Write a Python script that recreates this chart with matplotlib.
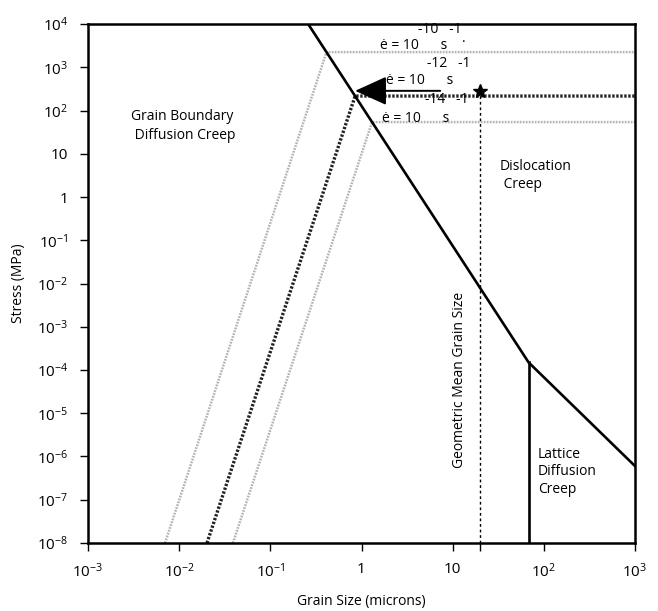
import matplotlib
matplotlib.use("Agg")
import matplotlib.pyplot as plt

plt.rcParams["font.family"] = ["Open Sans", "DejaVu Sans"]
plt.rcParams["mathtext.fontset"] = "custom"
plt.rcParams["mathtext.rm"] = "Open Sans"
plt.rcParams["mathtext.default"] = "regular"

# deformation mechanism boundary (grain size in microns, stress in MPa)
boundary_x = [0.26, 68, 1000]
boundary_y = [1e4, 1.5e-4, 6e-7]

# grain-boundary / dislocation creep strain-rate contours
rate_labels = ["-10", "-12", "-14"]
rate_stress = [2240, 216, 54]           # horizontal level in dislocation field
rate_x_top = [0.413, 0.851, 1.305]      # where contour meets the boundary
rate_x_bottom = [0.0070, 0.0202, 0.0389]  # where contour hits 1e-8 MPa
rate_colors = ["#b3b3b3", "#222222", "#b3b3b3"]

geo_mean_size = 20
star_stress = 285
arrow_from = 7.3

x_ticks = [1e-3, 1e-2, 1e-1, 1, 10, 1e2, 1e3]
x_ticklabels = ["10$^{-3}$", "10$^{-2}$", "10$^{-1}$", "1", "10", "10$^{2}$", "10$^{3}$"]
y_ticks = [1e4, 1e3, 1e2, 10, 1, 1e-1, 1e-2, 1e-3, 1e-4, 1e-5, 1e-6, 1e-7, 1e-8]
y_ticklabels = ["10$^{4}$", "10$^{3}$", "10$^{2}$", "10", "1", "10$^{-1}$", "10$^{-2}$",
                "10$^{-3}$", "10$^{-4}$", "10$^{-5}$", "10$^{-6}$", "10$^{-7}$", "10$^{-8}$"]

fig = plt.figure(figsize=(6.58, 6.11), dpi=100)
ax = fig.add_axes([0.1337, 0.1113, 0.8314, 0.8494])
ax.set_xscale("log")
ax.set_yscale("log")
ax.set_xlim(1e-3, 1e3)
ax.set_ylim(1e-8, 1e4)

# strain-rate contours
for i in range(len(rate_stress)):
    lw = 2.4 if i == 1 else 1.8
    ax.plot([rate_x_bottom[i], rate_x_top[i], 1e3],
            [1e-8, rate_stress[i], rate_stress[i]],
            color=rate_colors[i], linestyle=(0, (0.7, 0.5)), lw=lw, zorder=2)

# geometric mean grain size
ax.plot([geo_mean_size, geo_mean_size], [1e-8, star_stress],
        color="k", lw=1.0, linestyle=(0, (2, 2)), zorder=3)
ax.plot(geo_mean_size, star_stress, marker="*", color="k", ms=10, zorder=5)

# boundaries
ax.plot(boundary_x, boundary_y, color="k", lw=1.9, zorder=4)
ax.plot([boundary_x[1], boundary_x[1]], [1e-8, boundary_y[1]], color="k", lw=1.9, zorder=4)

ax.annotate("", xy=(rate_x_top[1], star_stress), xytext=(arrow_from, star_stress),
            arrowprops=dict(arrowstyle="-|>,head_length=1.1,head_width=0.5",
                            lw=1.4, color="k", shrinkA=0, shrinkB=0,
                            mutation_scale=18), zorder=6)

# field labels
fs = 10
ax.text(0.0030, 44, "Grain Boundary\n Diffusion Creep", fontsize=fs, ha="left", va="center",
        linespacing=1.3)
ax.text(33, 3.1, "Dislocation\n Creep", fontsize=fs, ha="left", va="center", linespacing=1.3)
ax.text(86, 4.4e-7, "Lattice\nDiffusion\nCreep", fontsize=fs, ha="left", va="center",
        linespacing=1.2)
ax.text(12, 5.9e-5, "Geometric Mean Grain Size", fontsize=fs, ha="center", va="center",
        rotation=90)

# strain-rate labels
base_pos = [(1.6, 3240), (1.86, 507), (1.68, 67)]
exp_pos = [(4.2, 7600), (5.2, 1250), (5.0, 175)]
for i in range(3):
    ax.text(base_pos[i][0], base_pos[i][1], "\u0117 = 10      s", fontsize=fs,
            ha="left", va="center", zorder=7)
    ax.text(exp_pos[i][0], exp_pos[i][1], rate_labels[i] + "   -1", fontsize=fs,
            ha="left", va="center", zorder=7)
ax.text(12.6, 4700, ".", fontsize=fs, ha="left", va="center")

ax.set_xticks(x_ticks + [geo_mean_size])
ax.set_xticklabels(x_ticklabels + [""])
ax.set_yticks(y_ticks)
ax.set_yticklabels(y_ticklabels)
ax.minorticks_off()
ax.tick_params(axis="both", direction="out", length=6, width=1.0, labelsize=11)
ax.tick_params(axis="x", pad=8)
ax.tick_params(axis="y", pad=8)
for side in ["top", "right", "bottom", "left"]:
    ax.spines[side].set_linewidth(1.8)

ax.set_xlabel("Grain Size (microns)", fontsize=10)
ax.set_ylabel("Stress (MPa)", fontsize=10)
ax.xaxis.set_label_coords(0.5, -0.098)
ax.yaxis.set_label_coords(-0.113, 0.5)

fig.savefig("out.png", dpi=100)
